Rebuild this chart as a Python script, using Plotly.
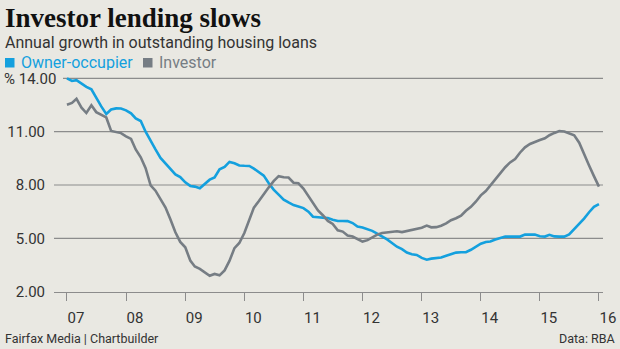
import pandas as pd
import plotly.graph_objects as go

# Annual growth in outstanding housing loans, %, monthly Jan 2007 - Jan 2016
owner_occupier = [
    14.00, 13.85, 13.90, 13.70, 13.52, 13.38, 12.90, 12.42, 12.00, 12.25, 12.31, 12.30,
    12.20, 12.03, 11.75, 11.60, 11.00, 10.47, 10.00, 9.52, 9.19, 8.88, 8.60, 8.45,
    8.15, 7.95, 7.91, 7.82, 8.05, 8.30, 8.43, 8.88, 9.02, 9.30, 9.22, 9.10,
    9.08, 9.07, 8.92, 8.70, 8.53, 8.10, 7.74, 7.46, 7.18, 7.02, 6.87, 6.79,
    6.70, 6.50, 6.22, 6.19, 6.17, 6.14, 6.05, 5.98, 5.98, 5.97, 5.86, 5.66,
    5.61, 5.53, 5.42, 5.27, 5.13, 4.94, 4.74, 4.53, 4.39, 4.20, 4.11, 4.07,
    3.90, 3.80, 3.86, 3.90, 3.92, 4.02, 4.12, 4.20, 4.22, 4.22, 4.36, 4.53,
    4.70, 4.80, 4.82, 4.93, 5.03, 5.10, 5.10, 5.10, 5.10, 5.21, 5.21, 5.21,
    5.12, 5.10, 5.20, 5.11, 5.10, 5.10, 5.22, 5.52, 5.80, 6.11, 6.47, 6.77,
    6.92,
]
investor = [
    12.52, 12.62, 12.85, 12.35, 12.05, 12.48, 12.10, 11.93, 11.80, 11.04, 11.00, 10.92,
    10.74, 10.59, 10.00, 9.56, 8.95, 7.98, 7.68, 7.23, 6.73, 6.07, 5.34, 4.80,
    4.50, 3.75, 3.42, 3.28, 3.08, 2.90, 3.00, 2.92, 3.20, 3.73, 4.45, 4.74,
    5.30, 6.10, 6.73, 7.10, 7.50, 7.87, 8.22, 8.50, 8.44, 8.42, 8.13, 8.10,
    7.80, 7.40, 6.98, 6.57, 6.30, 5.98, 5.81, 5.45, 5.38, 5.16, 5.10, 4.95,
    4.82, 4.90, 5.07, 5.21, 5.30, 5.33, 5.33, 5.40, 5.35, 5.42, 5.50, 5.54,
    5.60, 5.72, 5.62, 5.63, 5.71, 5.84, 6.02, 6.13, 6.27, 6.55, 6.77, 7.06,
    7.42, 7.66, 7.98, 8.36, 8.68, 9.00, 9.27, 9.46, 9.83, 10.12, 10.31, 10.44,
    10.53, 10.63, 10.80, 10.93, 11.03, 11.01, 10.92, 10.80, 10.38, 9.70, 9.10, 8.50,
    7.91,
]
months = pd.date_range("2007-01-01", periods=len(owner_occupier), freq="MS")

y_ticks = [2, 5, 8, 11]
y_tick_text = ["2.00", "5.00", "8.00", "11.00"]
y_top = 14
y_top_text = "% 14.00"
year_ticks = pd.date_range("2007-01-01", "2016-01-01", freq="YS")

W, H = 620, 349
BG = "#e9e8e2"
BLUE = "#14a0de"
GREY = "#767d84"
GRID = "#8c8c8c"
TEXT = "#333333"
SANS = "Roboto, 'Open Sans', sans-serif"


def px(x):
    return x / W


def py(y):
    return 1 - y / H


fig = go.Figure()
fig.add_trace(go.Scatter(x=months, y=owner_occupier, mode="lines", name="Owner-occupier",
                         line=dict(color=BLUE, width=2.6), hoverinfo="skip"))
fig.add_trace(go.Scatter(x=months, y=investor, mode="lines", name="Investor",
                         line=dict(color=GREY, width=2.6), hoverinfo="skip"))

# horizontal rules
shapes = []
for v in y_ticks[1:]:
    shapes.append(dict(type="line", xref="paper", yref="y", x0=px(54), x1=px(603),
                       y0=v, y1=v, line=dict(color=GRID, width=1.2), layer="below"))
shapes.append(dict(type="line", xref="paper", yref="y", x0=px(63), x1=px(603),
                   y0=y_top, y1=y_top, line=dict(color=GRID, width=1.2), layer="below"))

# legend swatches
shapes.append(dict(type="rect", xref="paper", yref="paper", x0=px(5), x1=px(14.5),
                   y0=py(67.5), y1=py(58), fillcolor=BLUE, line=dict(width=0)))
shapes.append(dict(type="rect", xref="paper", yref="paper", x0=px(143), x1=px(152.5),
                   y0=py(67.5), y1=py(58), fillcolor=GREY, line=dict(width=0)))

annotations = [
    dict(text="<b>Investor lending slows</b>", x=px(3), y=py(18), xanchor="left", yanchor="middle",
         font=dict(family="'Liberation Serif', serif", size=27, color="#111111")),
    dict(text="Annual growth in outstanding housing loans", x=px(3), y=py(43), xanchor="left",
         yanchor="middle", font=dict(family=SANS, size=16, color=TEXT)),
    dict(text="Owner-occupier", x=px(19), y=py(62.5), xanchor="left", yanchor="middle",
         height=15, font=dict(family=SANS, size=16, color=BLUE)),
    dict(text="Investor", x=px(157), y=py(62.5), xanchor="left", yanchor="middle",
         height=15, font=dict(family=SANS, size=16, color=GREY)),
    dict(text=y_top_text, x=px(58), y=y_top, yref="y", xanchor="right", yanchor="middle",
         height=13, font=dict(family=SANS, size=15, color=TEXT)),
    dict(text="Fairfax Media | Chartbuilder", x=px(3), y=py(338), xanchor="left",
         yanchor="middle", font=dict(family=SANS, size=12.5, color=TEXT)),
    dict(text="Data: RBA", x=px(617), y=py(338), xanchor="right", yanchor="middle",
         font=dict(family=SANS, size=12.5, color=TEXT)),
]
for a in annotations:
    a.setdefault("xref", "paper")
    a.setdefault("yref", "paper")
    a["showarrow"] = False

fig.update_layout(
    width=W, height=H,
    margin=dict(l=0, r=0, t=0, b=0, autoexpand=False),
    paper_bgcolor=BG, plot_bgcolor=BG,
    showlegend=False,
    shapes=shapes,
    annotations=annotations,
    xaxis=dict(
        domain=[px(54), px(603)],
        range=["2006-10-13", "2016-01-26"],
        tickvals=year_ticks, tickformat="%y",
        ticks="outside", ticklen=8, tickwidth=1.2, tickcolor=GRID,
        showline=True, linecolor=GRID, linewidth=1.2,
        showgrid=False, zeroline=False, automargin=False,
        ticklabelshift=9, ticklabelstandoff=4,
        tickfont=dict(family=SANS, size=15, color=TEXT),
    ),
    yaxis=dict(
        domain=[py(291.7), py(73)],
        range=[2, 14.3],
        tickvals=y_ticks, ticktext=y_tick_text,
        ticks="", showgrid=False, zeroline=False, showline=False, automargin=False,
        ticklabelstandoff=8,
        tickfont=dict(family=SANS, size=15, color=TEXT),
    ),
)

fig.write_html("out.html")
